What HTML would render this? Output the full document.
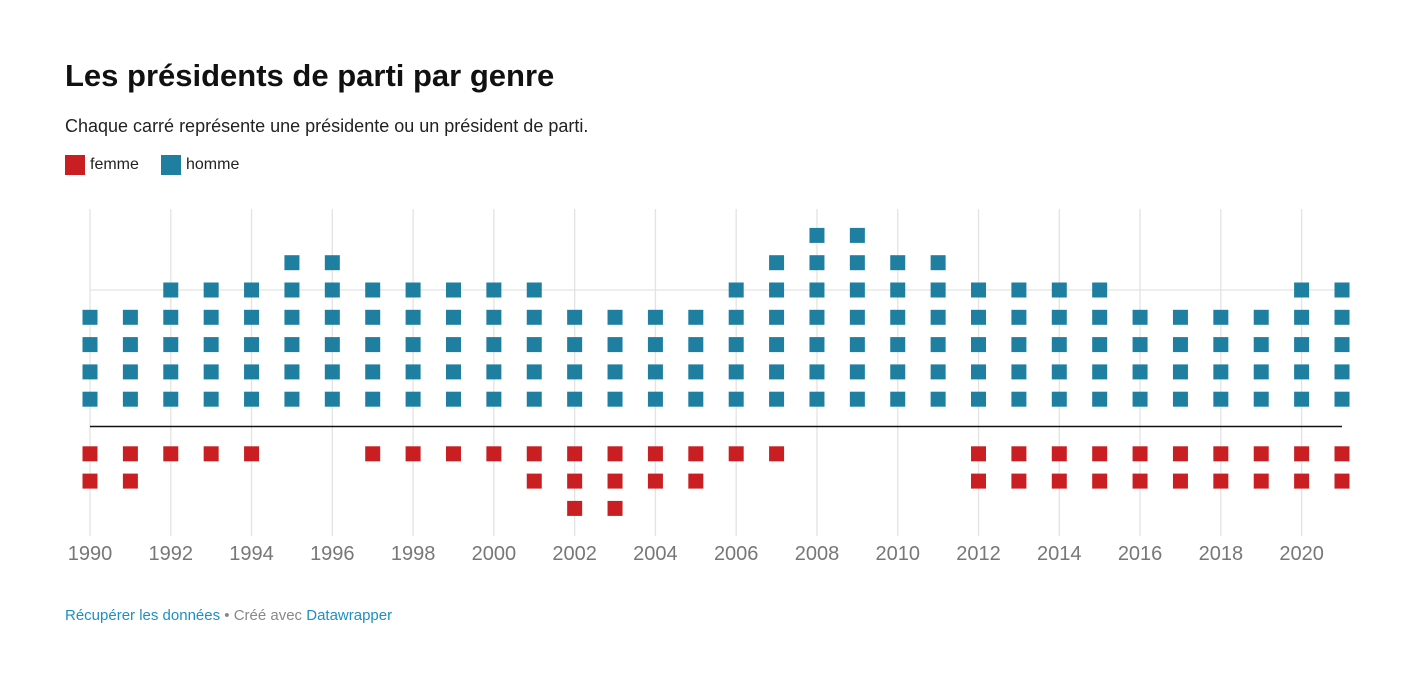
<!DOCTYPE html>
<html><head><meta charset="utf-8"><style>
body{margin:0;background:#fff;font-family:"Liberation Sans",sans-serif;}
#wrap{position:relative;width:1420px;height:689px;}
h1{position:absolute;left:65px;top:58px;margin:0;font-size:31px;font-weight:bold;color:#111;}
.sub{position:absolute;left:65px;top:116px;font-size:18px;color:#222;}
.leg{position:absolute;top:155px;font-size:16px;color:#222;display:flex;align-items:center;}
.leg i{display:inline-block;width:20px;height:20px;margin-right:5px;}
.foot{position:absolute;left:65px;top:607px;font-size:15px;color:#888;}
.foot span.l{color:#1d8fc4;}
</style></head><body>
<div id="wrap">
<h1>Les présidents de parti par genre</h1>
<div class="sub">Chaque carré représente une présidente ou un président de parti.</div>
<div class="leg" style="left:65px"><i style="background:#c91f22"></i>femme</div>
<div class="leg" style="left:161px"><i style="background:#1e7fa1"></i>homme</div>
<svg id="chart" width="1420" height="689" style="position:absolute;left:0;top:0"></svg>
<div class="foot"><span class="l">Récupérer les données</span> • Créé avec <span class="l">Datawrapper</span></div>
</div>
<script>
const years=[1990,1991,1992,1993,1994,1995,1996,1997,1998,1999,2000,2001,2002,2003,2004,2005,2006,2007,2008,2009,2010,2011,2012,2013,2014,2015,2016,2017,2018,2019,2020,2021];
const hommes=[4,4,5,5,5,6,6,5,5,5,5,5,4,4,4,4,5,6,7,7,6,6,5,5,5,5,4,4,4,4,5,5];
const femmes=[2,2,1,1,1,0,0,1,1,1,1,2,3,3,2,2,1,1,0,0,0,0,2,2,2,2,2,2,2,2,2,2];
const tickYears=[1990,1992,1994,1996,1998,2000,2002,2004,2006,2008,2010,2012,2014,2016,2018,2020];
const NS="http://www.w3.org/2000/svg";
const svg=document.getElementById('chart');
const x=y=>90+(y-1990)*(1342-90)/31;
const base=426.5, step=27.3, sz=15;
const yRow=k=>base+k*step; // k>0 downward, k<0 upward
function mk(t,a){const e=document.createElementNS(NS,t);for(const k in a)e.setAttribute(k,a[k]);svg.appendChild(e);return e;}
tickYears.forEach(t=>{
 const g=mk('line',{x1:x(t),x2:x(t),y1:209,y2:536,stroke:'#e3e3e3','stroke-width':1.3});
 
 
 const tx=mk('text',{x:x(t),y:560,'text-anchor':'middle','font-size':20,fill:'#777','font-family':'Liberation Sans, sans-serif'});
 tx.textContent=t;
 
 
});
const hg=mk('line',{x1:90,x2:1342,y1:yRow(-5),y2:yRow(-5),stroke:'#e3e3e3','stroke-width':1.3});


years.forEach((yr,i)=>{
 for(let k=1;k<=hommes[i];k++){
  const r=mk('rect',{x:x(yr)-sz/2,y:yRow(-k)-sz/2,width:sz,height:sz,fill:'#1e7fa1'});
  
  
 }
 for(let k=1;k<=femmes[i];k++){
  const r=mk('rect',{x:x(yr)-sz/2,y:yRow(k)-sz/2,width:sz,height:sz,fill:'#c91f22'});
  
  
 }
});
const bl=mk('line',{x1:90,x2:1342,y1:base,y2:base,stroke:'#111','stroke-width':1.5});


</script>
</body></html>
